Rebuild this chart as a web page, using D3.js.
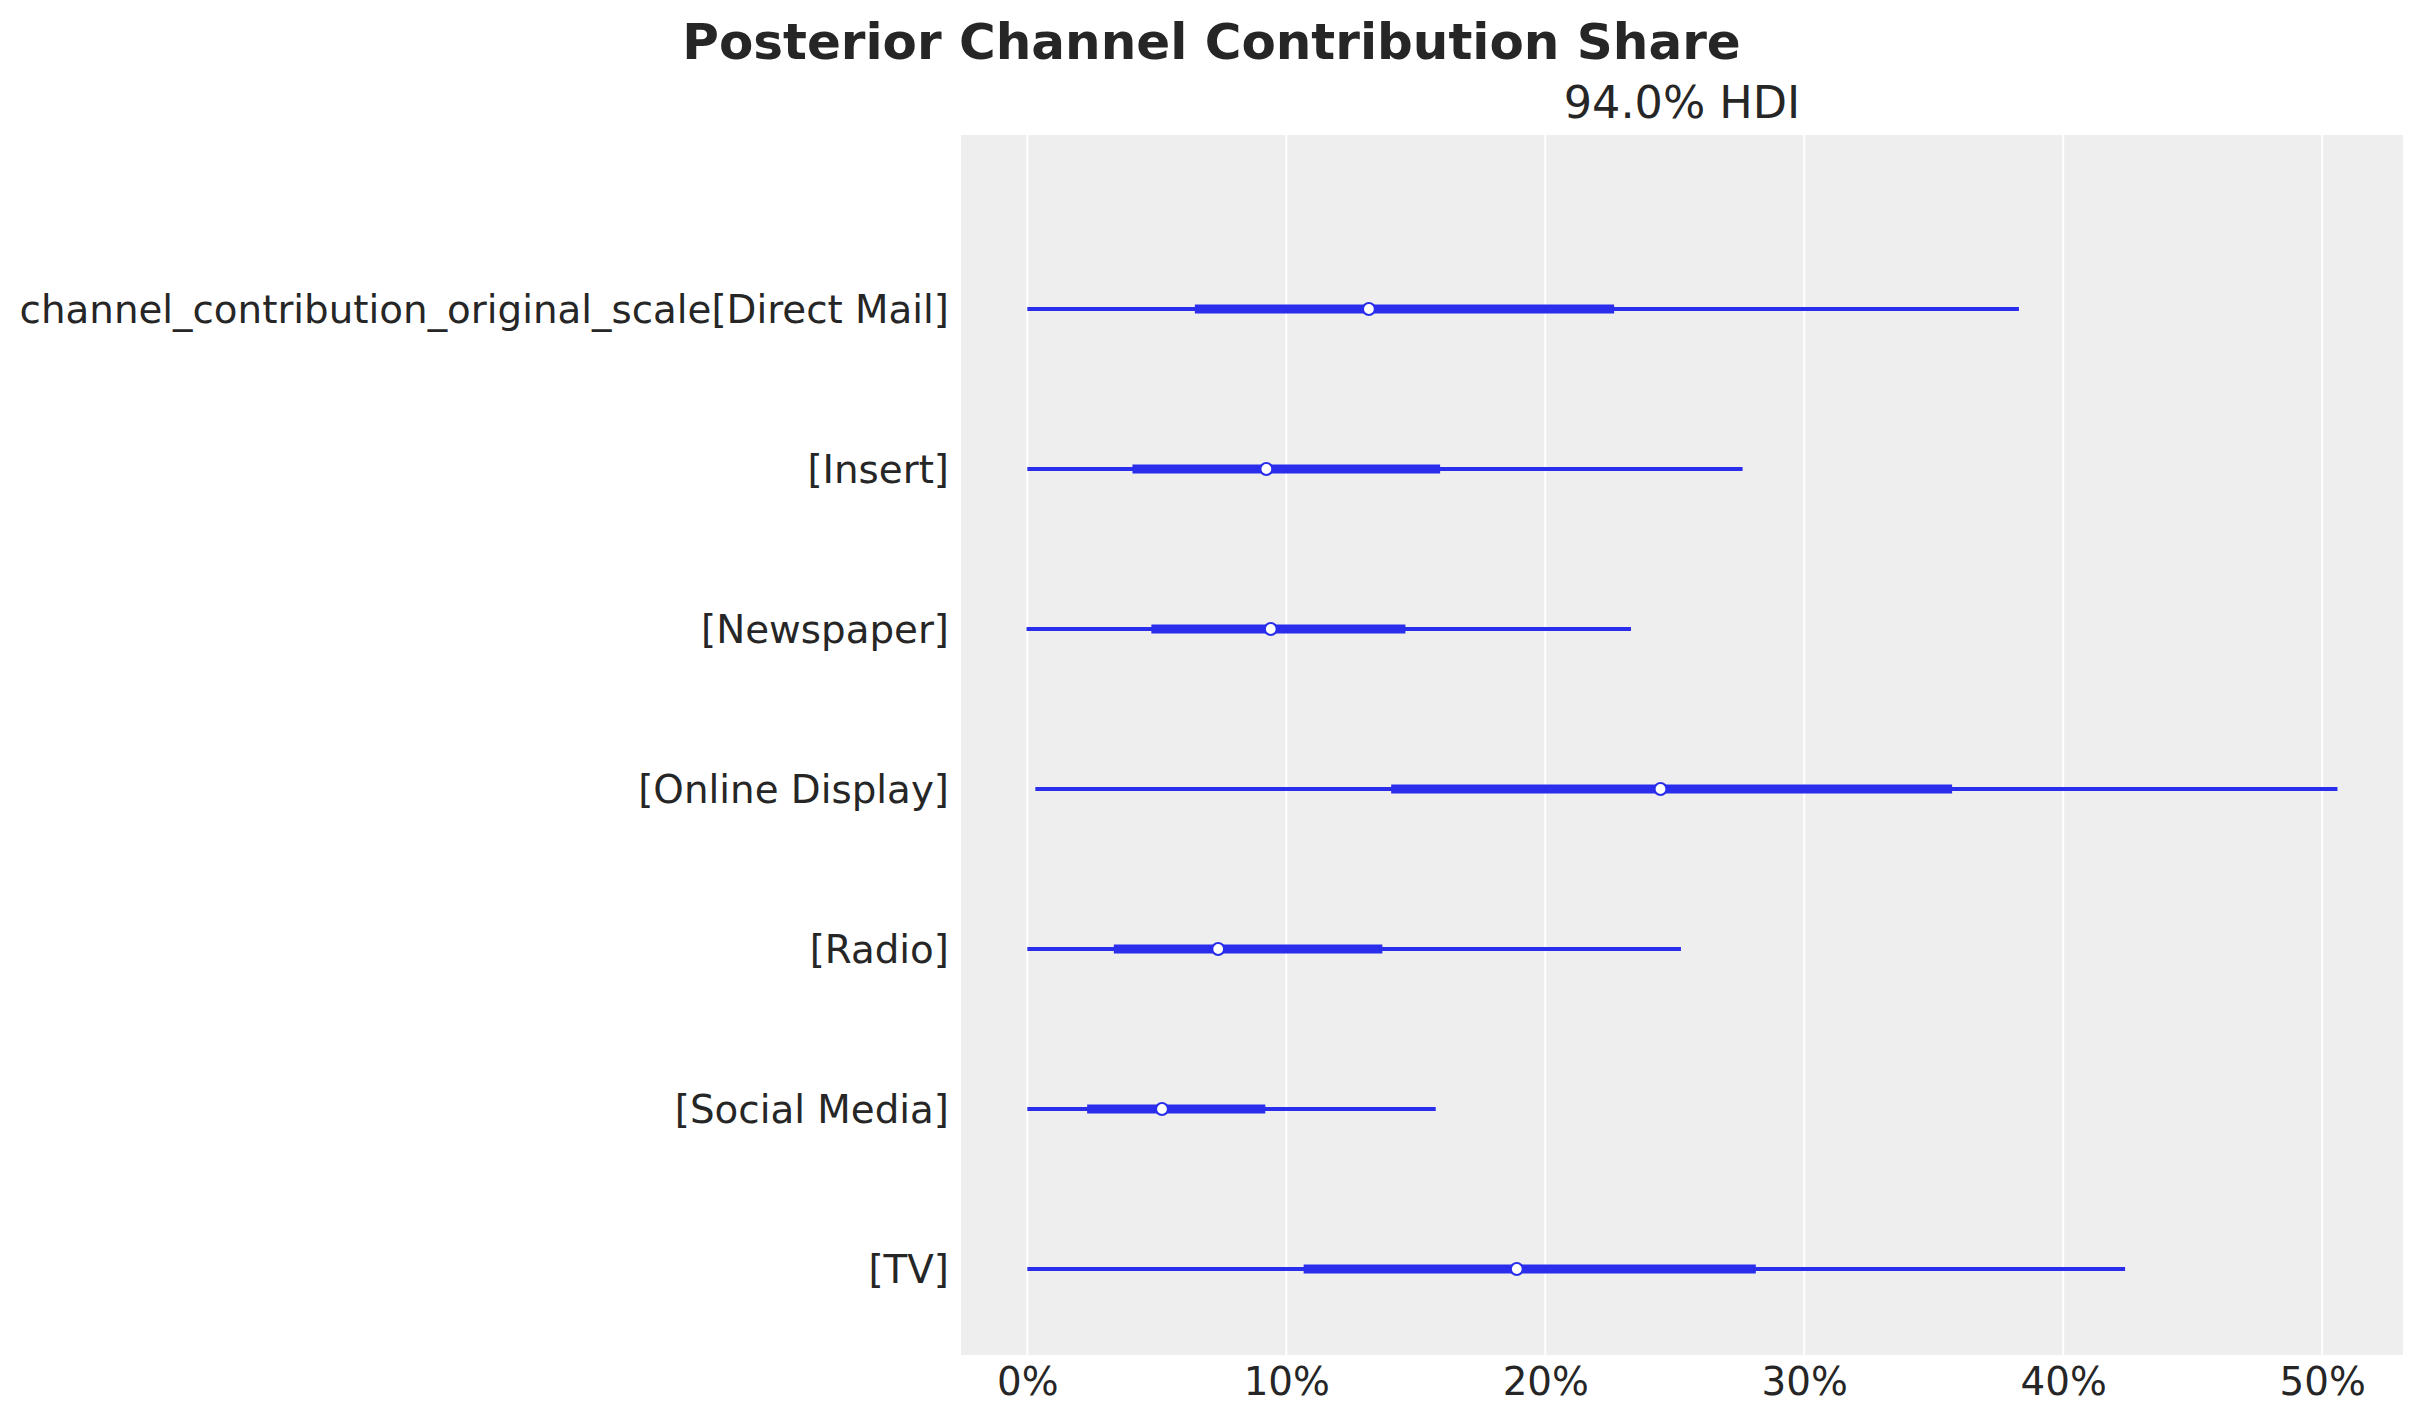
<!DOCTYPE html>
<html>
<head>
<meta charset="utf-8">
<script src="https://cdn.jsdelivr.net/npm/d3@7"></script>
<style>
  html, body { margin: 0; padding: 0; background: #ffffff; }
  svg { display: block; }
  text { font-family: "DejaVu Sans", sans-serif; fill: #262626; }
</style>
</head>
<body>
<svg id="chart" width="2423" height="1423"></svg>
<script>
// ---- data ----
const labels = [
  "channel_contribution_original_scale[Direct Mail]",
  "[Insert]",
  "[Newspaper]",
  "[Online Display]",
  "[Radio]",
  "[Social Media]",
  "[TV]"
];
const hdiLow   = [0.0000, 0.0000, -0.0003, 0.0031, 0.0000, 0.0000, 0.0000];
const hdiHigh  = [0.3829, 0.2762, 0.2331, 0.5059, 0.2524, 0.1577, 0.4239];
const iqrLow   = [0.0647, 0.0406, 0.0479, 0.1405, 0.0334, 0.0231, 0.1067];
const iqrHigh  = [0.2266, 0.1594, 0.1460, 0.3571, 0.1371, 0.0919, 0.2813];
const medians  = [0.1319, 0.0923, 0.0940, 0.2445, 0.0737, 0.0520, 0.1890];
const tickValues = [0, 0.1, 0.2, 0.3, 0.4, 0.5];
const titleText = "Posterior Channel Contribution Share";
const subTitleText = "94.0% HDI";

// ---- layout ----
const W = 2423, H = 1423;
const plot = { left: 961, right: 2403, top: 135, bottom: 1355 };
const blue = "#2a2eec";

const svg = d3.select("#chart");
svg.append("rect").attr("width", W).attr("height", H).attr("fill", "#ffffff");

const lo = d3.min(hdiLow), hi = d3.max(hdiHigh);
const pad = (hi - lo) * 0.05;
const x = d3.scaleLinear().domain([lo - pad, hi + pad]).range([plot.left, plot.right]);
const y = d3.scaleLinear().domain([-1.0875, 6.5375]).range([plot.top, plot.bottom]);

// background
svg.append("rect")
  .attr("x", plot.left).attr("y", plot.top)
  .attr("width", plot.right - plot.left).attr("height", plot.bottom - plot.top)
  .attr("fill", "#eeeeee");

// grid
svg.append("g").selectAll("line").data(tickValues).join("line")
  .attr("x1", d => x(d)).attr("x2", d => x(d))
  .attr("y1", plot.top).attr("y2", plot.bottom)
  .attr("stroke", "#ffffff").attr("stroke-width", 2);

// x axis
const xAxis = d3.axisBottom(x).tickValues(tickValues).tickFormat(d3.format(".0%")).tickSize(0);
const gx = svg.append("g").attr("transform", `translate(0,${plot.bottom})`).call(xAxis);
gx.select(".domain").remove();
gx.selectAll("text")
  .attr("y", 40).attr("dy", 0)
  .style("font-size", "38.8px")
  .style("font-family", "DejaVu Sans, sans-serif")
  .attr("fill", "#262626");

// y labels
const idx = d3.range(labels.length);
svg.append("g").selectAll("text").data(idx).join("text")
  .attr("x", 949).attr("y", i => y(i)).attr("dy", "0.37em")
  .attr("text-anchor", "end")
  .style("font-size", "38.8px")
  .text(i => labels[i]);

// thin HDI lines
const marks = svg.append("g");
marks.selectAll("line.hdi").data(idx).join("line").attr("class", "hdi")
  .attr("x1", i => x(hdiLow[i])).attr("x2", i => x(hdiHigh[i]))
  .attr("y1", i => y(i)).attr("y2", i => y(i))
  .attr("stroke", blue).attr("stroke-width", 4);

// thick IQR lines
marks.selectAll("line.iqr").data(idx).join("line").attr("class", "iqr")
  .attr("x1", i => x(iqrLow[i])).attr("x2", i => x(iqrHigh[i]))
  .attr("y1", i => y(i)).attr("y2", i => y(i))
  .attr("stroke", blue).attr("stroke-width", 9);

// median points
marks.selectAll("circle").data(idx).join("circle")
  .attr("cx", i => x(medians[i])).attr("cy", i => y(i))
  .attr("r", 6)
  .attr("fill", "#ffffff").attr("stroke", blue).attr("stroke-width", 2.2);

// titles
svg.append("text")
  .attr("x", W / 2).attr("y", 59).attr("text-anchor", "middle")
  .style("font-size", "50px").style("font-weight", "bold")
  .text(titleText);
svg.append("text")
  .attr("x", (plot.left + plot.right) / 2).attr("y", 118).attr("text-anchor", "middle")
  .style("font-size", "44.5px")
  .text(subTitleText);
</script>
</body>
</html>
